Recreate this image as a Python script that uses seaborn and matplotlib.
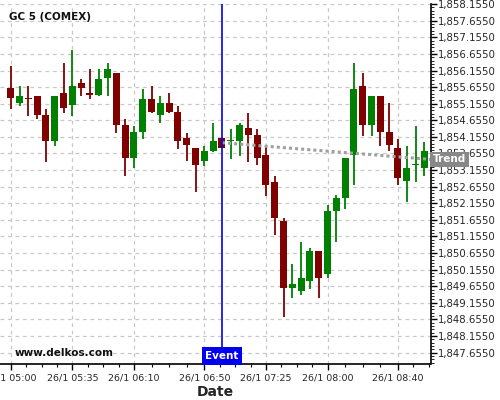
import pandas as pd
import matplotlib
matplotlib.use("Agg")
import matplotlib.pyplot as plt
import matplotlib.dates as mdates
import matplotlib.ticker as mticker
import matplotlib.transforms as mtransforms
import seaborn as sns

day = "2015-01-26 "

times = ["05:00", "05:05", "05:10", "05:15", "05:20", "05:25", "05:30", "05:35",
         "05:40", "05:45", "05:50", "05:55", "06:00", "06:05", "06:10", "06:15",
         "06:20", "06:25", "06:30", "06:35", "06:40", "06:45", "06:50", "06:55",
         "07:00", "07:05", "07:10", "07:15", "07:20", "07:25", "07:30", "07:35",
         "07:40", "07:45", "07:50", "07:55", "08:00", "08:05", "08:10", "08:15",
         "08:20", "08:25", "08:30", "08:35", "08:40", "08:45", "08:50", "08:55"]
opens = [1855.62, 1855.19, 1855.34, 1855.40, 1854.80, 1854.03, 1855.49, 1855.11,
         1855.79, 1855.49, 1855.41, 1855.92, 1856.09, 1854.50, 1853.52, 1854.30,
         1855.31, 1854.81, 1855.19, 1854.89, 1854.11, 1853.81, 1853.42, 1853.73,
         1854.11, 1854.02, 1854.03, 1854.41, 1854.20, 1853.60, 1852.81, 1851.61,
         1849.61, 1849.52, 1849.82, 1850.71, 1850.03, 1851.91, 1852.31, 1853.61,
         1855.70, 1854.51, 1855.40, 1854.29, 1853.81, 1852.82, 1853.30, 1853.21]
highs = [1856.30, 1855.70, 1855.70, 1855.40, 1855.00, 1855.40, 1856.38, 1856.78,
         1855.90, 1856.20, 1856.20, 1856.38, 1856.09, 1854.69, 1854.49, 1855.60,
         1855.69, 1855.39, 1855.48, 1855.09, 1854.28, 1853.81, 1853.88, 1854.57,
         1854.11, 1854.40, 1854.57, 1854.88, 1854.40, 1853.88, 1852.99, 1851.71,
         1850.31, 1851.00, 1850.80, 1850.71, 1852.09, 1852.39, 1853.51, 1856.38,
         1856.08, 1855.40, 1855.40, 1855.18, 1854.10, 1853.89, 1854.49, 1854.01]
lows = [1855.00, 1855.08, 1854.78, 1854.70, 1853.41, 1853.89, 1854.88, 1854.78,
        1855.40, 1855.29, 1855.38, 1855.38, 1854.28, 1852.99, 1853.21, 1854.10,
        1854.86, 1854.58, 1854.86, 1853.80, 1853.42, 1852.50, 1853.29, 1853.70,
        1853.81, 1853.50, 1853.59, 1853.39, 1853.30, 1852.38, 1851.21, 1848.72,
        1849.29, 1849.40, 1849.58, 1849.29, 1849.90, 1851.00, 1851.99, 1852.69,
        1854.19, 1854.19, 1853.89, 1853.72, 1852.69, 1852.20, 1852.81, 1852.99]
closes = [1855.32, 1855.40, 1855.31, 1854.81, 1854.03, 1855.40, 1855.02, 1855.70,
          1855.62, 1855.41, 1855.91, 1856.21, 1854.51, 1853.52, 1854.29, 1855.31,
          1854.89, 1855.19, 1854.89, 1854.03, 1853.91, 1853.30, 1853.72, 1854.02,
          1853.82, 1854.05, 1854.50, 1854.21, 1853.52, 1852.70, 1851.71, 1849.61,
          1849.71, 1849.90, 1850.71, 1849.90, 1851.91, 1852.30, 1853.51, 1855.61,
          1854.51, 1855.40, 1854.30, 1853.91, 1852.91, 1853.21, 1853.33, 1853.72]

trend_times = ["07:00", "09:00"]
trend_values = [1853.98, 1853.47]

event_time = "07:00"
tick_times = ["05:00", "05:35", "06:10", "06:50", "07:25", "08:00", "08:40", "09:15"]
tick_labels = ["26/1 05:00", "26/1 05:35", "26/1 06:10", "26/1 06:50",
               "26/1 07:25", "26/1 08:00", "26/1 08:40", ""]

df = pd.DataFrame({"time": pd.to_datetime([day + t for t in times]),
                   "open": opens, "high": highs, "low": lows, "close": closes})
df["x"] = mdates.date2num(df["time"])
df["dir"] = (df["close"] >= df["open"]).map({True: "up", False: "down"})
colors = {"up": "#008000", "down": "#800000"}

trend = pd.DataFrame({"x": mdates.date2num(pd.to_datetime([day + t for t in trend_times])),
                      "y": trend_values})

sns.set_theme(style="white")
plt.rcParams["font.family"] = ["DejaVu Sans"]

fig = plt.figure(figsize=(5, 4), dpi=100)
ax = fig.add_axes([0.0, 0.09, 0.861, 0.90])

minute = 1 / 1440.0
# wicks
ax.vlines(df["x"], df["low"], df["high"],
          colors=[colors[d] for d in df["dir"]], linewidth=1.3, zorder=3)
# bodies
body_lo = df[["open", "close"]].min(axis=1)
body_h = (df["close"] - df["open"]).abs().clip(lower=0.03)
ax.bar(df["x"], body_h, bottom=body_lo, width=4 * minute,
       color=[colors[d] for d in df["dir"]], linewidth=0, zorder=4)

# trend line
sns.lineplot(data=trend, x="x", y="y", ax=ax, color="#a0a0a0",
             linestyle=(0, (1, 1)), linewidth=2.2, zorder=5)

# event line
ev = mdates.date2num(pd.Timestamp(day + event_time))
ax.axvline(ev, color="#0000ee", linewidth=1.2, zorder=6)

x0 = mdates.date2num(pd.Timestamp(day + "05:00")) - 6.1 * minute
x1 = mdates.date2num(pd.Timestamp(day + "05:00")) + 238.5 * minute

xt = mdates.date2num(pd.to_datetime([day + t for t in tick_times]))
minors = []
for a, b in zip(xt[:-1], xt[1:]):
    minors += [a + (b - a) * k / 4 for k in (1, 2, 3)]
minors = [m for m in minors if m < x1]
ax.set_xticks(xt[:-1])
ax.set_xticklabels(tick_labels[:-1])
ax.set_xticks(minors, minor=True)
ax.set_xlim(x0, x1)
ax.set_ylim(1847.31, 1858.16)

ax.yaxis.tick_right()
ax.yaxis.set_major_locator(mticker.MultipleLocator(0.5, offset=0.155))
ax.yaxis.set_minor_locator(mticker.MultipleLocator(0.1, offset=0.055))
ax.yaxis.set_major_formatter(mticker.FuncFormatter(lambda v, p: f"{v:,.4f}"))

ax.tick_params(axis="x", which="major", length=4, width=1, labelsize=6.8, pad=3,
               bottom=True, color="black")
ax.tick_params(axis="x", which="minor", length=2.5, width=0.8, bottom=True, color="black")
ax.tick_params(axis="y", which="major", length=4, width=1, labelsize=7.3, pad=1,
               right=True, left=False, color="black")
ax.tick_params(axis="y", which="minor", length=2, width=0.6, right=True, left=False,
               color="black")

ax.grid(True, which="major", color="#c8c8c8", linestyle=(0, (3, 3)), linewidth=0.9)
for s in ["top", "left"]:
    ax.spines[s].set_visible(False)
for s in ["bottom", "right"]:
    ax.spines[s].set_color("black")
    ax.spines[s].set_linewidth(1.2)

ax.set_xlabel("Date", fontsize=10, fontweight="bold", labelpad=2)
ax.set_ylabel("")

ax.text(0.02, 0.965, "GC 5 (COMEX)", transform=ax.transAxes, fontsize=7.5,
        fontweight="bold", ha="left", va="center", color="#111111")
ax.text(0.035, 0.03, "www.delkos.com", transform=ax.transAxes, fontsize=7.5,
        fontweight="bold", ha="left", va="center", color="#111111")

tr = mtransforms.blended_transform_factory(ax.transData, ax.transAxes)
ax.text(ev, 0.022, "Event", transform=tr, fontsize=7.5, fontweight="bold",
        color="white", ha="center", va="center", zorder=7,
        bbox=dict(boxstyle="square,pad=0.35", fc="#0000ee", ec="none"))

trend_edge = trend_values[0] + (trend_values[1] - trend_values[0]) * \
    (x1 - trend["x"][0]) / (trend["x"][1] - trend["x"][0])
tr2 = mtransforms.blended_transform_factory(ax.transAxes, ax.transData)
ax.text(1.005, trend_edge, "Trend", transform=tr2, fontsize=7.5, fontweight="bold",
        color="white", ha="left", va="center", zorder=7, clip_on=False,
        bbox=dict(boxstyle="square,pad=0.25", fc="#888888", ec="none"))

fig.savefig("out.png", dpi=100)
